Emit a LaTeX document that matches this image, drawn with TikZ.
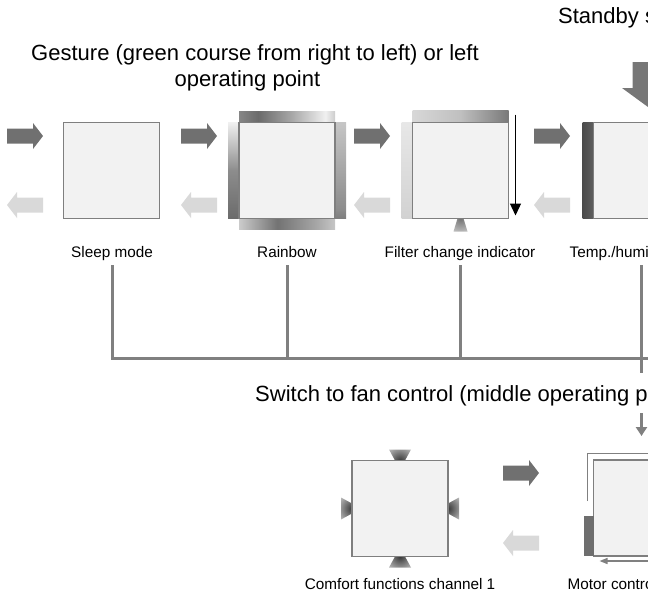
\documentclass[tikz,border=0pt]{standalone}
\usepackage{fontspec}
\setmainfont{Liberation Sans}
\usetikzlibrary{arrows.meta}

\pgfdeclarelayer{behind}
\pgfsetlayers{behind,main}

\definecolor{boxfill}{HTML}{F2F2F2}
\definecolor{boxline}{HTML}{7F7F7F}
\definecolor{fwdgray}{HTML}{707070}
\definecolor{backgray}{HTML}{D9D9D9}
\definecolor{busgray}{HTML}{808080}
\definecolor{bargray}{HTML}{6E6E6E}

% metallic light bars (0bp = left / bottom)
\pgfdeclarehorizontalshading{rainbowtop}{100bp}{color(0bp)=(black!25); color(20bp)=(black!42); color(35bp)=(black!58); color(52bp)=(black!35); color(70bp)=(black!6); color(86bp)=(black!50); color(100bp)=(black!75)}
\pgfdeclareverticalshading{rainbowleft}{100bp}{color(0bp)=(black!30); color(25bp)=(black!58); color(50bp)=(black!45); color(75bp)=(black!6); color(100bp)=(black!75)}
\pgfdeclareverticalshading{rainbowright}{100bp}{color(0bp)=(black!80); color(30bp)=(black!45); color(70bp)=(black!25); color(100bp)=(black!10)}
\pgfdeclarehorizontalshading{rainbowbottom}{100bp}{color(0bp)=(black!78); color(22bp)=(black!15); color(45bp)=(black!55); color(65bp)=(black!35); color(85bp)=(black!10); color(100bp)=(black!30)}
\pgfdeclarehorizontalshading{filtertop}{100bp}{color(0bp)=(black!6); color(50bp)=(black!25); color(100bp)=(black!80)}
\pgfdeclareverticalshading{filterleft}{100bp}{color(0bp)=(black!22); color(100bp)=(black!5)}
\pgfdeclarehorizontalshading{tempbar}{100bp}{color(0bp)=(black!75); color(100bp)=(black!58)}

\begin{document}
\begin{tikzpicture}[x=1pt,y=-1pt,
  panel/.style={draw=boxline, fill=boxfill, line width=1.2pt,
    minimum width=96pt, minimum height=96pt, inner sep=0pt, outer sep=0pt},
  boxlabel/.style={font=\fontsize{15.3}{18}\selectfont, text depth=3.5pt,
    inner sep=4.5pt, anchor=base},
  heading/.style={font=\fontsize{22}{27}\selectfont, inner sep=0pt, anchor=base},
  bus/.style={draw=busgray, line width=3pt},
  thinrule/.style={draw=busgray, line width=1.5pt},
  fwd/.style={fill=fwdgray},
  back/.style={fill=backgray},
  pics/blockarrow/.style n args={4}{code={
    \path[pic actions] (0,{-#3}) -- ({#1-#2},{-#3}) -- ({#1-#2},{-#4}) -- (#1,0)
      -- ({#1-#2},#4) -- ({#1-#2},#3) -- (0,#3) -- cycle;}},
]
\useasboundingbox (0,0) rectangle (648,592);
\clip (0,0) rectangle (648,592);

% headings
\node[heading] (gesture1) at (255,60) {Gesture (green course from right to left) or left};
\node[heading] (gesture2) at (247.5,86) {operating point};
\node[heading, anchor=base west] (standby) at (558,23) {Standby s};
\node[heading, anchor=base west] (switch) at (255,401) {Switch to fan control (middle operating p};

% operating modes, upper row
\node[panel] (sleep)  at (111.5,170.5) {};
\node[panel] (rain)   at (287,170.5) {};
\node[panel] (filter) at (460.5,170.5) {};
\node[panel] (temp)   at (641.5,170.5) {};

% fan control row
\node[panel] (comfort) at (400,508.5) {};
\node[panel] (motor)   at (641.5,508) {};

% labels
\node[boxlabel] (lsleep)  at (112,257) {Sleep mode};
\node[boxlabel] (lrain)   at (287,257) {Rainbow};
\node[boxlabel] (lfilter) at (460,257) {Filter change indicator};
\node[boxlabel, anchor=base west] (ltemp) at (565,257) {Temp./humid};
\node[boxlabel] (lcomfort) at (400,589) {Comfort functions channel 1};
\node[boxlabel, anchor=base west] (lmotor) at (563,589) {Motor control};

% light bars and glows behind the panels
\begin{pgfonlayer}{behind}
  \shade[shading=rainbowtop] (rain.north west) rectangle ([yshift=11pt]rain.north east);
  \shade[shading=rainbowleft] ([xshift=-11pt]rain.north west) rectangle (rain.south west);
  \shade[shading=rainbowright] (rain.north east) rectangle ([xshift=11pt]rain.south east);
  \shade[shading=rainbowbottom] (rain.south west) rectangle ([yshift=-11pt]rain.south east);

  \shade[shading=filtertop] (filter.north west) rectangle ([yshift=12pt]filter.north east);
  \shade[shading=filterleft] ([xshift=-11pt]filter.north west) rectangle (filter.south west);
  \begin{scope}[shift={(filter.south)}, rotate=-90]
    \clip (0,-3) -- (13,-7) -- (13,7) -- (0,3) -- cycle;
    \shade[inner color=black!55, outer color=white] (-26,-26) rectangle (26,26);
  \end{scope}

  \shade[shading=tempbar] ([xshift=-11pt]temp.north west) rectangle (temp.south west);

  \foreach \side/\ang in {north/90,south/-90,east/0,west/180} {
    \begin{scope}[shift={(comfort.\side)}, rotate=\ang]
      \clip (0,-5) -- (11,-11) -- (11,11) -- (0,5) -- cycle;
      \shade[inner color=black!78, outer color=white] (-24,-24) rectangle (24,24);
    \end{scope}
  }
\end{pgfonlayer}

% direction arrows, upper row
\foreach \xt in {7,181,354,534} {
  \pic[fwd] at (\xt,136) {blockarrow={36}{10}{7.5}{13}};
  \pic[back, rotate=180] at (\xt+36,205) {blockarrow={36}{10}{7.5}{13}};
}
% direction arrows, fan control row
\pic[fwd] at (503,473) {blockarrow={36}{10}{7.5}{13}};
\pic[back, rotate=180] at (539,543) {blockarrow={36}{10}{7.5}{13}};

% standby entry arrow
\pic[fill=fwdgray!95!white, rotate=-90] at (648,62) {blockarrow={45}{19}{15.5}{26}};

% filter change sweep
\coordinate (ftop) at ([xshift=7pt,yshift=8pt]filter.north east);
\coordinate (fbot) at ([xshift=7pt,yshift=3pt]filter.south east);
\draw[line width=1.3pt, -{Triangle[length=12pt,width=11pt]}] (ftop) -- (fbot);

% motor control marks
\fill[bargray] ([xshift=-10pt,yshift=40pt]motor.south west) rectangle (motor.south west);
\coordinate (mlow) at ([xshift=-6pt,yshift=55pt]motor.south west);
\coordinate (mtop) at ([xshift=-6pt,yshift=6.5pt]motor.north west);
\coordinate (edge) at (660,0);
\draw[thinrule] (mlow) -- (mtop) -- (mtop -| edge);
\coordinate (mtip) at ([xshift=6pt,yshift=-5pt]motor.south west);
\draw[thinrule, -{Triangle[length=8pt,width=6pt]}] (mtip -| edge) -- (mtip);

% collecting bus to fan control
\coordinate (busR) at (660,358.5);
\coordinate (ttap) at (641.5,265);
\coordinate (tend) at (641.5,373);
\draw[bus, line join=miter] (lsleep.south) |- (busR);
\draw[bus] (lrain.south) -- (lrain.south |- busR);
\draw[bus] (lfilter.south) -- (lfilter.south |- busR);
\draw[bus] (ttap) -- (tend);
\coordinate (sw1) at (641.5,413);
\coordinate (sw2) at (641.5,436);
\draw[bus, -{Triangle[length=9pt,width=11pt]}] (sw1) -- (sw2);
\end{tikzpicture}
\end{document}
